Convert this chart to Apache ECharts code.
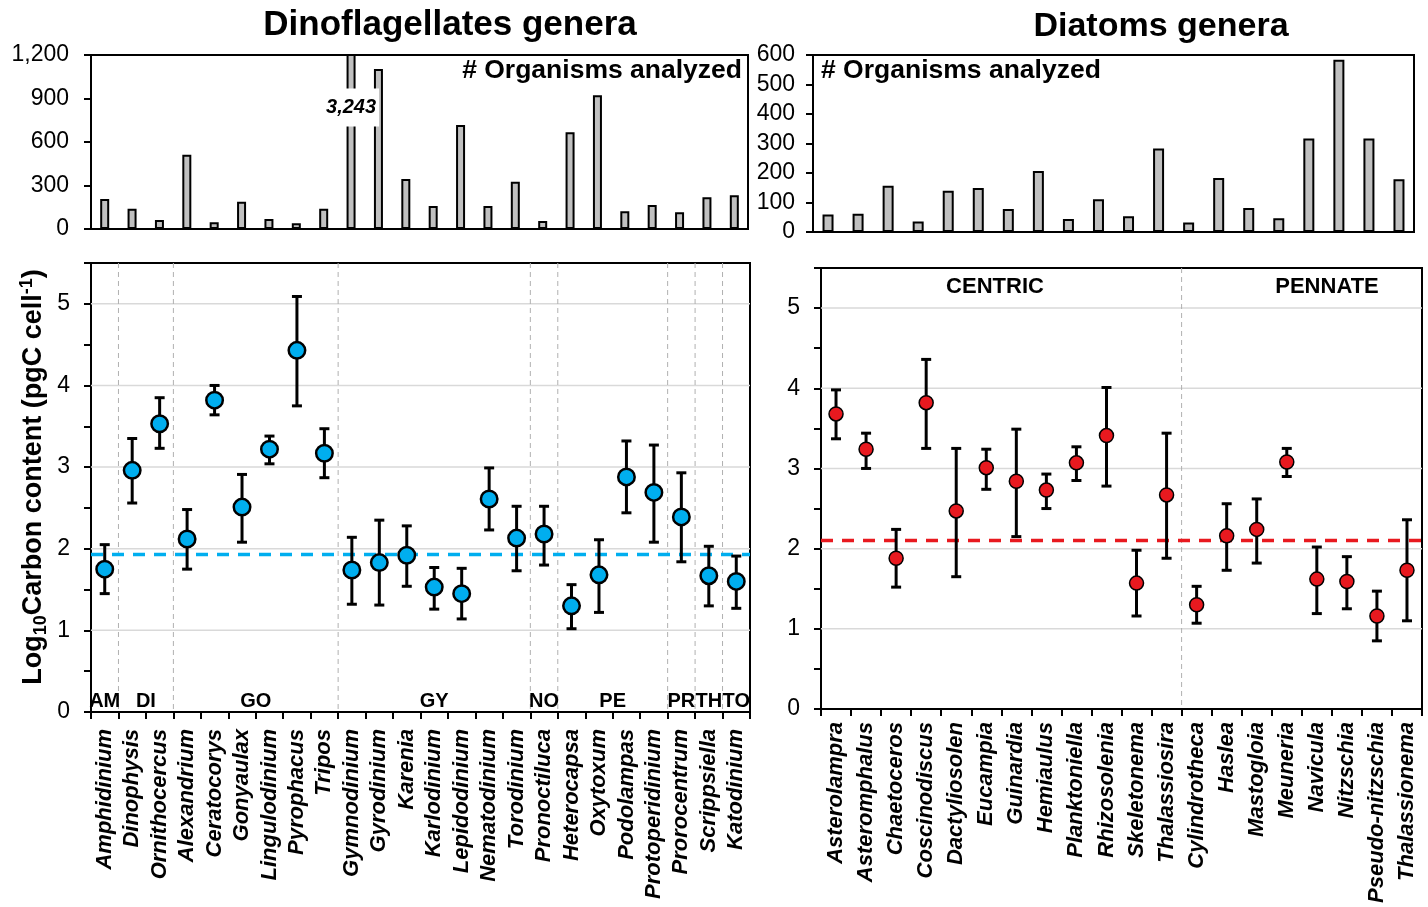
<!DOCTYPE html>
<html><head><meta charset="utf-8">
<script src="https://cdn.jsdelivr.net/npm/echarts@6/dist/echarts.min.js"></script>
<style>html,body{margin:0;padding:0;background:#fff}#c{width:1428px;height:907px}</style>
</head><body><div id="c"></div><script>
// ---------- DATA ----------
const dinoGenera = ['Amphidinium','Dinophysis','Ornithocercus','Alexandrium','Ceratocorys','Gonyaulax','Lingulodinium','Pyrophacus','Tripos','Gymnodinium','Gyrodinium','Karenia','Karlodinium','Lepidodinium','Nematodinium','Torodinium','Pronoctiluca','Heterocapsa','Oxytoxum','Podolampas','Protoperidinium','Prorocentrum','Scrippsiella','Katodinium'];
const dinoCount = [207,140,62,512,46,188,69,39,140,3243,1103,345,159,717,159,326,55,667,922,122,166,115,219,232];
const dinoMean = [1.75,2.96,3.53,2.12,3.82,2.51,3.22,4.43,3.17,1.74,1.83,1.92,1.53,1.45,2.61,2.13,2.18,1.30,1.68,2.88,2.69,2.39,1.67,1.60];
const dinoLow  = [1.45,2.56,3.23,1.75,3.64,2.08,3.04,3.75,2.87,1.32,1.31,1.54,1.26,1.14,2.23,1.73,1.80,1.02,1.22,2.44,2.08,1.84,1.30,1.27];
const dinoHigh = [2.05,3.35,3.85,2.48,4.00,2.91,3.38,5.09,3.47,2.14,2.35,2.28,1.77,1.76,2.99,2.52,2.52,1.56,2.11,3.32,3.27,2.93,2.03,1.91];
const dinoGroupNames = ['AM','DI','GO','GY','NO','PE','PR','TH','TO'];
const dinoGroupSizes = [1,2,6,7,1,4,1,1,1];
const dinoMedian = 1.93;

const diatomGenera = ['Asterolampra','Asteromphalus','Chaetoceros','Coscinodiscus','Dactyliosolen','Eucampia','Guinardia','Hemiaulus','Planktoniella','Rhizosolenia','Skeletonema','Thalassiosira','Cylindrotheca','Haslea','Mastogloia','Meuneria','Navicula','Nitzschia','Pseudo-nitzschia','Thalassionema'];
const diatomCount = [59,62,157,36,140,149,78,207,44,111,53,283,32,183,81,47,317,584,317,179];
const diatomMean = [3.68,3.24,1.88,3.82,2.47,3.01,2.84,2.73,3.07,3.41,1.57,2.67,1.30,2.16,2.24,3.08,1.62,1.59,1.16,1.73];
const diatomLow  = [3.37,3.00,1.52,3.25,1.65,2.74,2.15,2.50,2.85,2.78,1.16,1.88,1.07,1.73,1.82,2.90,1.19,1.25,0.85,1.10];
const diatomHigh = [3.98,3.44,2.24,4.36,3.25,3.24,3.49,2.93,3.27,4.01,1.98,3.44,1.53,2.56,2.62,3.25,2.02,1.90,1.47,2.36];
const diatomGroupNames = ['CENTRIC','PENNATE'];
const diatomGroupSizes = [12,8];
const diatomMedian = 2.10;

const dinoCountTicks = [0,300,600,900,1200];
const diatomCountTicks = [0,100,200,300,400,500,600];
const logTicks = [0,1,2,3,4,5];
const logMax = 5.5;

// ---------- HELPERS ----------
const FF = '"Liberation Sans", Arial, Helvetica, sans-serif';
const BLUE = '#00aeef', RED = '#e8191f';
const boundaries = sizes => { const b=[]; let s=0; sizes.slice(0,-1).forEach(n=>{s+=n;b.push([s]);}); return b; };
const starts = sizes => { const r=[]; let s=0; sizes.forEach(n=>{r.push(s); s+=n;}); return r; };

function countYAxis(grid, ticks, margin){
  return {type:'value', gridIndex:grid, min:ticks[0], max:ticks[ticks.length-1], interval:ticks[1]-ticks[0],
    axisLine:{show:true, lineStyle:{color:'#000', width:2}},
    axisTick:{show:true, length:7, lineStyle:{color:'#000', width:2}},
    axisLabel:{fontSize:23, color:'#000', fontFamily:FF, margin:margin, formatter:v=>v.toLocaleString('en-US')},
    splitLine:{show:false}};
}
function logYAxis(grid){
  return {type:'value', gridIndex:grid, min:0, max:logMax, interval:0.5,
    axisLine:{show:true, lineStyle:{color:'#000', width:2}},
    axisTick:{show:true, length:7, lineStyle:{color:'#000', width:2}},
    axisLabel:{fontSize:23, color:'#000', fontFamily:FF, margin:21,
      formatter:v=> logTicks.indexOf(v)>=0 ? String(v) : ''},
    splitLine:{show:false}};
}
function barXAxis(grid, cats){
  return {type:'category', gridIndex:grid, data:cats,
    axisLine:{lineStyle:{color:'#000', width:2}}, axisTick:{show:false}, axisLabel:{show:false}};
}
function catXAxis(grid, cats, margin){
  return {type:'category', gridIndex:grid, data:cats,
    axisLine:{lineStyle:{color:'#000', width:2}},
    axisTick:{show:true, length:7, lineStyle:{color:'#000', width:2}},
    axisLabel:{interval:0, rotate:90, fontSize:22, fontStyle:'italic', fontWeight:'bold', color:'#000', fontFamily:FF, margin:margin}};
}
function errRender(params, api){
  const x = api.coord([api.value(0), api.value(1)])[0];
  const yl = api.coord([api.value(0), api.value(1)])[1];
  const yh = api.coord([api.value(0), api.value(2)])[1];
  const c = 5, st = {stroke:'#000', lineWidth:3};
  return {type:'group', children:[
    {type:'line', shape:{x1:x,y1:yl,x2:x,y2:yh}, style:st},
    {type:'line', shape:{x1:x-c,y1:yh,x2:x+c,y2:yh}, style:st},
    {type:'line', shape:{x1:x-c,y1:yl,x2:x+c,y2:yl}, style:st}]};
}
function hLineRender(color, width, dash){
  return function(params, api){
    const cs = params.coordSys;
    const y = api.coord([0, api.value(1)])[1];
    return {type:'line', shape:{x1:cs.x, y1:y, x2:cs.x+cs.width, y2:y},
      style:{stroke:color, lineWidth:width, lineDash:dash}};
  };
}
function dividerRender(params, api){
  const cs = params.coordSys;
  const bw = api.size([1,0])[0];
  const x = api.coord([api.value(0), 0])[0] - bw/2;
  return {type:'line', shape:{x1:x, y1:cs.y, x2:x, y2:cs.y+cs.height},
    style:{stroke:'#b0b0b0', lineWidth:1, lineDash:[5,4]}};
}
function groupLabelRender(names){
  return function(params, api){
    const bw = api.size([1,0])[0];
    const x0 = api.coord([api.value(0), 0])[0] - bw/2;
    const cx = x0 + bw*api.value(1)/2;
    const y = api.coord([0,0])[1];
    return {type:'text', x:cx, y:y-1, style:{text:names[api.value(2)], align:'center', verticalAlign:'bottom',
      fontSize:20, fontWeight:'bold', fontFamily:FF, fill:'#000'}};
  };
}

const option = {
  animation:false,
  backgroundColor:'#fff',
  grid:[
    {left:91, top:55, width:657, height:174, show:true, borderColor:'#000', borderWidth:2},
    {left:91, top:263, width:659, height:449, show:true, borderColor:'#000', borderWidth:2},
    {left:813, top:55, width:601, height:177, show:true, borderColor:'#000', borderWidth:2},
    {left:821, top:268, width:601, height:441, show:true, borderColor:'#000', borderWidth:2}
  ],
  xAxis:[barXAxis(0, dinoGenera), catXAxis(1, dinoGenera, 17), barXAxis(2, diatomGenera), catXAxis(3, diatomGenera, 13)],
  yAxis:[countYAxis(0, dinoCountTicks, 22), logYAxis(1), countYAxis(2, diatomCountTicks, 18), logYAxis(3)],
  graphic:[
    {type:'text', x:450, y:25, style:{text:'Dinoflagellates genera', align:'center', verticalAlign:'middle', fontSize:35, fontWeight:'bold', fontFamily:FF, fill:'#000'}},
    {type:'text', x:1161, y:27, style:{text:'Diatoms genera', align:'center', verticalAlign:'middle', fontSize:34, fontWeight:'bold', fontFamily:FF, fill:'#000'}},
    {type:'text', x:742, y:71, z:10, style:{text:'# Organisms analyzed', align:'right', verticalAlign:'middle', fontSize:26.5, fontWeight:'bold', fontFamily:FF, fill:'#000'}},
    {type:'text', x:821, y:71, z:10, style:{text:'# Organisms analyzed', align:'left', verticalAlign:'middle', fontSize:26.5, fontWeight:'bold', fontFamily:FF, fill:'#000'}},
    {type:'text', x:995, y:287, z:10, style:{text:diatomGroupNames[0], align:'center', verticalAlign:'middle', fontSize:22, fontWeight:'bold', fontFamily:FF, fill:'#000'}},
    {type:'text', x:1327, y:287, z:10, style:{text:diatomGroupNames[1], align:'center', verticalAlign:'middle', fontSize:22, fontWeight:'bold', fontFamily:FF, fill:'#000'}},
    {type:'text', x:34, y:477, rotation:Math.PI/2, z:10, style:{
      text:'{a|Log}{s|10}{a|Carbon content (pgC cell}{p|-1}{a|)}', align:'center', verticalAlign:'middle',
      rich:{a:{fontSize:27, fontWeight:'bold', fontFamily:FF, fill:'#000', color:'#000', lineHeight:32, verticalAlign:'middle'},
            s:{fontSize:18, fontWeight:'bold', fontFamily:FF, color:'#000', fill:'#000', lineHeight:32, verticalAlign:'bottom'},
            p:{fontSize:18, fontWeight:'bold', fontFamily:FF, color:'#000', fill:'#000', lineHeight:32, verticalAlign:'top'}}}}
  ],
  series:[
    // counts - dinoflagellates
    {type:'bar', xAxisIndex:0, yAxisIndex:0, data:dinoCount, barWidth:9, z:2,
      itemStyle:{color:'#c0c0c0', borderColor:'#000', borderWidth:2},
      markPoint:{symbol:'rect', symbolSize:[1,1], itemStyle:{color:'rgba(0,0,0,0)'}, silent:true, z:6,
        label:{show:true, position:'inside', formatter:p=>Number(p.value).toLocaleString('en-US'), backgroundColor:'#fff', padding:[9,3],
          fontSize:20, fontStyle:'italic', fontWeight:'bold', fontFamily:FF, color:'#000'},
        data:dinoCount.map((v,i)=>({v,i})).filter(o=>o.v>dinoCountTicks[dinoCountTicks.length-1]).map(o=>({coord:[dinoGenera[o.i], 838], value:o.v}))}},
    // counts - diatoms
    {type:'bar', xAxisIndex:2, yAxisIndex:2, data:diatomCount, barWidth:11, z:2,
      itemStyle:{color:'#c0c0c0', borderColor:'#000', borderWidth:2}},

    // dino panel
    {type:'custom', xAxisIndex:1, yAxisIndex:1, z:1, silent:true, renderItem:hLineRender('#d9d9d9',1.5,null),
      data:logTicks.filter(v=>v>0).map(v=>[0,v])},
    {type:'custom', xAxisIndex:1, yAxisIndex:1, z:1, silent:true, renderItem:dividerRender,
      encode:{x:0}, data:boundaries(dinoGroupSizes)},
    {type:'custom', xAxisIndex:1, yAxisIndex:1, z:2, silent:true, renderItem:hLineRender(BLUE,3.5,[12,9]),
      data:[[0,dinoMedian]]},
    {type:'custom', xAxisIndex:1, yAxisIndex:1, z:3, silent:true, renderItem:errRender, encode:{x:0, y:[1,2]},
      data:dinoGenera.map((g,i)=>[i, dinoLow[i], dinoHigh[i]])},
    {type:'scatter', xAxisIndex:1, yAxisIndex:1, z:4, symbol:'circle', symbolSize:16.5,
      itemStyle:{color:BLUE, borderColor:'#000', borderWidth:2.5, opacity:1},
      data:dinoMean.map((v,i)=>[i,v])},
    {type:'custom', xAxisIndex:1, yAxisIndex:1, z:5, silent:true, renderItem:groupLabelRender(dinoGroupNames), encode:{x:0},
      data:starts(dinoGroupSizes).map((s,k)=>[s, dinoGroupSizes[k], k])},

    // diatom panel
    {type:'custom', xAxisIndex:3, yAxisIndex:3, z:1, silent:true, renderItem:hLineRender('#d9d9d9',1.5,null),
      data:logTicks.filter(v=>v>0).map(v=>[0,v])},
    {type:'custom', xAxisIndex:3, yAxisIndex:3, z:1, silent:true, renderItem:dividerRender,
      encode:{x:0}, data:boundaries(diatomGroupSizes)},
    {type:'custom', xAxisIndex:3, yAxisIndex:3, z:2, silent:true, renderItem:hLineRender(RED,3.5,[12,9]),
      data:[[0,diatomMedian]]},
    {type:'custom', xAxisIndex:3, yAxisIndex:3, z:3, silent:true, renderItem:errRender, encode:{x:0, y:[1,2]},
      data:diatomGenera.map((g,i)=>[i, diatomLow[i], diatomHigh[i]])},
    {type:'scatter', xAxisIndex:3, yAxisIndex:3, z:4, symbol:'circle', symbolSize:14,
      itemStyle:{color:RED, borderColor:'#000', borderWidth:1.5, opacity:1},
      data:diatomMean.map((v,i)=>[i,v])}
  ]
};
const chart = echarts.init(document.getElementById('c'), null, {renderer:'canvas'});
chart.setOption(option);
</script></body></html>
